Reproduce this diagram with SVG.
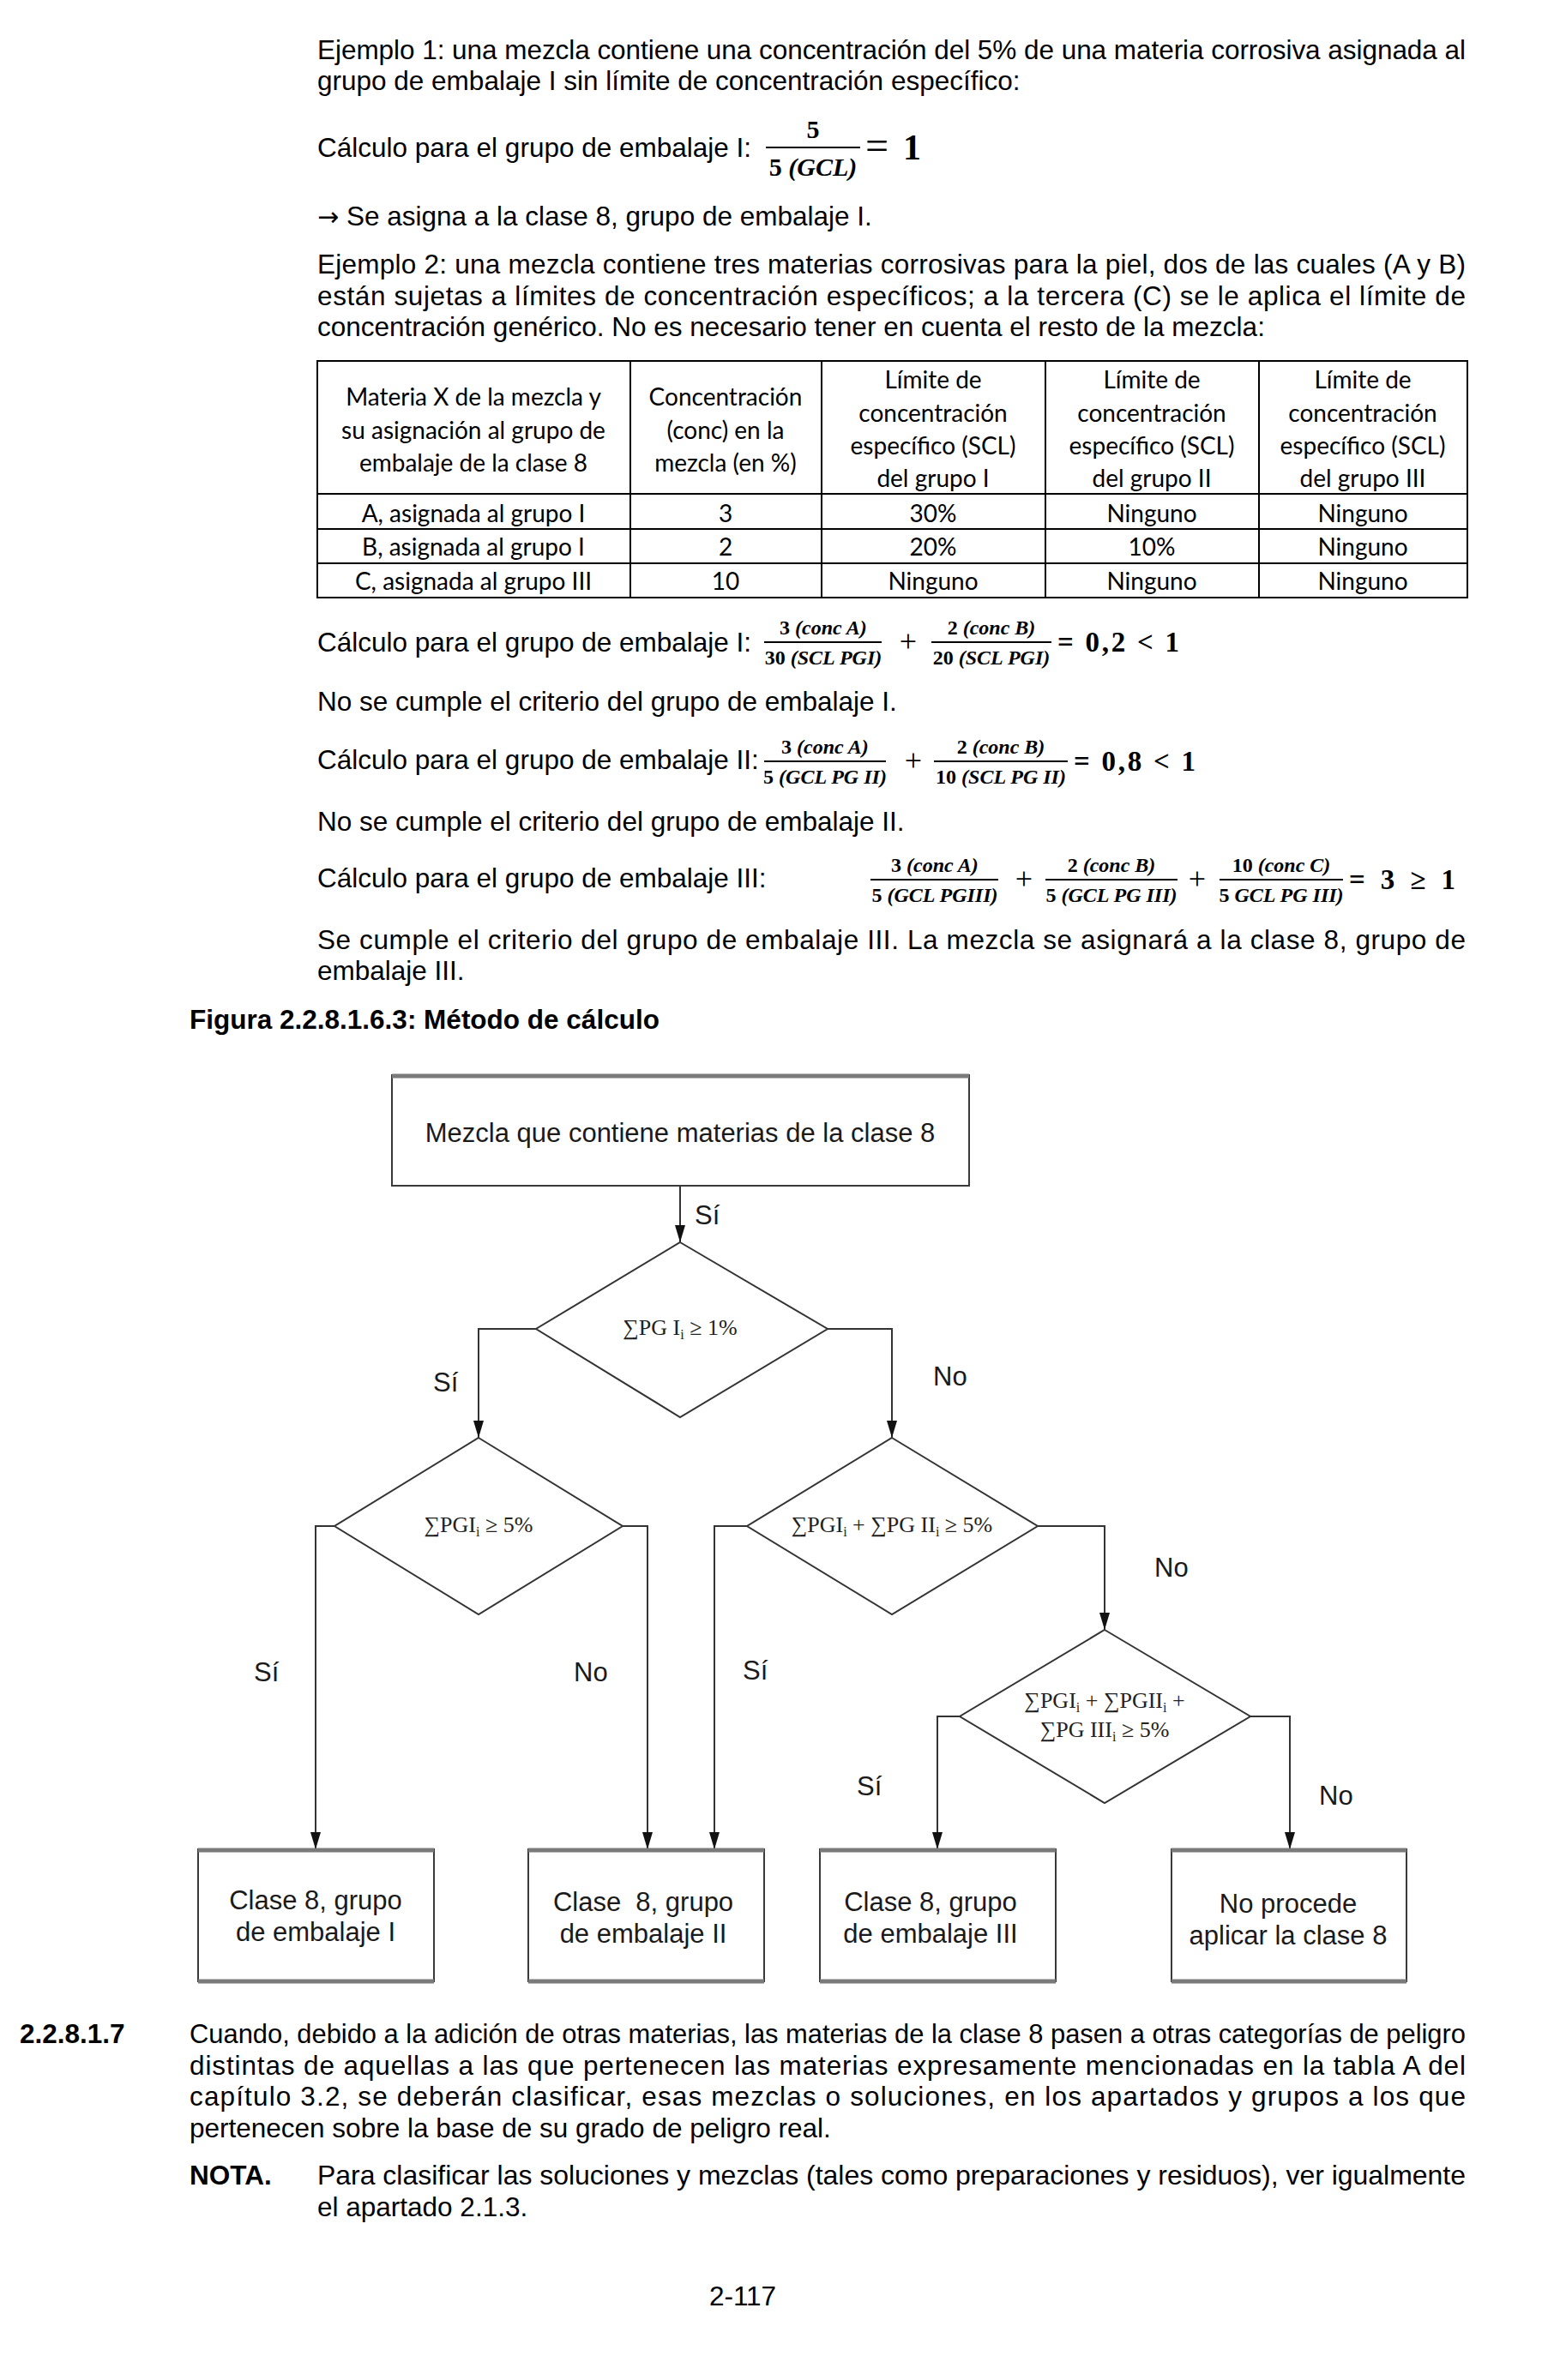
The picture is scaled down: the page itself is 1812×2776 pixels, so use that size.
<svg xmlns="http://www.w3.org/2000/svg" width="1812" height="2776" viewBox="0 0 1812 2776">
<style>
.b{font-family:"Liberation Sans",Arial,sans-serif;font-size:31.5px;fill:#000}
.bb{font-family:"Liberation Sans",Arial,sans-serif;font-size:31.5px;font-weight:bold;fill:#000}
.t{font-family:Lato,"Liberation Sans",sans-serif;font-size:28px;fill:#000;text-anchor:middle}
.m{font-family:"Liberation Serif","Times New Roman",serif;font-size:24px;font-weight:bold;font-style:italic;fill:#000;text-anchor:middle}
.mp{font-family:"Liberation Serif","Times New Roman",serif;font-size:36px;fill:#000;text-anchor:middle}
.mr{font-family:"Liberation Serif","Times New Roman",serif;font-size:33px;font-weight:bold;fill:#000}
.f{font-family:"Liberation Sans",Arial,sans-serif;font-size:31px;fill:#1a1a1a}
.fc{font-family:"Liberation Sans",Arial,sans-serif;font-size:31px;fill:#1a1a1a;text-anchor:middle}
.d{font-family:"Liberation Serif","Times New Roman",serif;font-size:26px;fill:#222;text-anchor:middle}
.tl{stroke:#000;stroke-width:2;fill:none}
.bar{stroke:#000;stroke-width:1.8}
.box{fill:#fff;stroke:#3a3a3a;stroke-width:2}
.dia{fill:#fff;stroke:#333;stroke-width:2}
.con{fill:none;stroke:#333;stroke-width:2}
.edge{stroke:#7a7a7a;stroke-width:5}
</style>
<defs>
<marker id="ah" viewBox="0 0 12 20" refX="6" refY="20" markerWidth="12" markerHeight="20" markerUnits="userSpaceOnUse" orient="0">
<path d="M0,0 L12,0 L6,20 z" fill="#111"/>
</marker>
</defs>
<rect width="1812" height="2776" fill="#fff"/>

<!-- Example 1 -->
<text class="b" x="370" y="69" textLength="1339" lengthAdjust="spacing">Ejemplo 1: una mezcla contiene una concentración del 5% de una materia corrosiva asignada al</text>
<text class="b" x="370" y="105">grupo de embalaje I sin límite de concentración específico:</text>
<text class="b" x="370" y="183">Cálculo para el grupo de embalaje I:</text>
<text x="948" y="161" font-family="Liberation Serif,serif" font-size="30" font-weight="bold" text-anchor="middle">5</text>
<line class="bar" x1="893" y1="172" x2="1003" y2="172"/>
<text x="948" y="205" font-family="Liberation Serif,serif" font-size="30" font-weight="bold" text-anchor="middle">5 <tspan font-style="italic">(GCL)</tspan></text>
<text x="1009" y="186" font-family="Liberation Serif,serif" font-size="48">=</text>
<text x="1053" y="186" font-family="Liberation Serif,serif" font-size="42" font-weight="bold">1</text>
<text class="b" x="370" y="263"><tspan font-family="DejaVu Sans,sans-serif" font-size="30">→</tspan> Se asigna a la clase 8, grupo de embalaje I.</text>

<!-- Example 2 -->
<text class="b" x="370" y="319" textLength="1339" lengthAdjust="spacing">Ejemplo 2: una mezcla contiene tres materias corrosivas para la piel, dos de las cuales (A y B)</text>
<text class="b" x="370" y="356" textLength="1339" lengthAdjust="spacing">están sujetas a límites de concentración específicos; a la tercera (C) se le aplica el límite de</text>
<text class="b" x="370" y="392">concentración genérico. No es necesario tener en cuenta el resto de la mezcla:</text>

<!-- Table -->
<g id="table">
<rect class="tl" x="370" y="421" width="1341" height="276"/>
<line class="tl" x1="370" y1="576" x2="1711" y2="576"/>
<line class="tl" x1="370" y1="617" x2="1711" y2="617"/>
<line class="tl" x1="370" y1="657" x2="1711" y2="657"/>
<line class="tl" x1="735" y1="421" x2="735" y2="697"/>
<line class="tl" x1="958" y1="421" x2="958" y2="697"/>
<line class="tl" x1="1219" y1="421" x2="1219" y2="697"/>
<line class="tl" x1="1468" y1="421" x2="1468" y2="697"/>
<text class="t" x="552" y="473">Materia X de la mezcla y</text>
<text class="t" x="552" y="512">su asignación al grupo de</text>
<text class="t" x="552" y="550">embalaje de la clase 8</text>
<text class="t" x="846" y="473">Concentración</text>
<text class="t" x="846" y="512">(conc) en la</text>
<text class="t" x="846" y="550">mezcla (en %)</text>
<text class="t" x="1088" y="453">Límite de</text>
<text class="t" x="1088" y="492">concentración</text>
<text class="t" x="1088" y="530">específico (SCL)</text>
<text class="t" x="1088" y="568">del grupo I</text>
<text class="t" x="1343" y="453">Límite de</text>
<text class="t" x="1343" y="492">concentración</text>
<text class="t" x="1343" y="530">específico (SCL)</text>
<text class="t" x="1343" y="568">del grupo II</text>
<text class="t" x="1589" y="453">Límite de</text>
<text class="t" x="1589" y="492">concentración</text>
<text class="t" x="1589" y="530">específico (SCL)</text>
<text class="t" x="1589" y="568">del grupo III</text>
<text class="t" x="552" y="609">A, asignada al grupo I</text>
<text class="t" x="846" y="609">3</text>
<text class="t" x="1088" y="609">30%</text>
<text class="t" x="1343" y="609">Ninguno</text>
<text class="t" x="1589" y="609">Ninguno</text>
<text class="t" x="552" y="648">B, asignada al grupo I</text>
<text class="t" x="846" y="648">2</text>
<text class="t" x="1088" y="648">20%</text>
<text class="t" x="1343" y="648">10%</text>
<text class="t" x="1589" y="648">Ninguno</text>
<text class="t" x="552" y="688">C, asignada al grupo III</text>
<text class="t" x="846" y="688">10</text>
<text class="t" x="1088" y="688">Ninguno</text>
<text class="t" x="1343" y="688">Ninguno</text>
<text class="t" x="1589" y="688">Ninguno</text>
</g>

<!-- Calc I -->
<text class="b" x="370" y="760">Cálculo para el grupo de embalaje I:</text>
<text class="m" x="960" y="740"><tspan font-style="normal">3 </tspan>(conc A)</text>
<line class="bar" x1="891" y1="749" x2="1028" y2="749"/>
<text class="m" x="960" y="775"><tspan font-style="normal">30 </tspan>(SCL PGI)</text>
<text class="mp" x="1059" y="760">+</text>
<text class="m" x="1156" y="740"><tspan font-style="normal">2 </tspan>(conc B)</text>
<line class="bar" x1="1086" y1="749" x2="1226" y2="749"/>
<text class="m" x="1156" y="775"><tspan font-style="normal">20 </tspan>(SCL PGI)</text>
<text class="mr" x="1233" y="760" textLength="142" lengthAdjust="spacing">= 0,2 &lt; 1</text>
<text class="b" x="370" y="829">No se cumple el criterio del grupo de embalaje I.</text>

<!-- Calc II -->
<text class="b" x="370" y="897">Cálculo para el grupo de embalaje II:</text>
<text class="m" x="962" y="879"><tspan font-style="normal">3 </tspan>(conc A)</text>
<line class="bar" x1="891" y1="888" x2="1033" y2="888"/>
<text class="m" x="962" y="914"><tspan font-style="normal">5 </tspan>(GCL PG II)</text>
<text class="mp" x="1065" y="899">+</text>
<text class="m" x="1167" y="879"><tspan font-style="normal">2 </tspan>(conc B)</text>
<line class="bar" x1="1089" y1="888" x2="1245" y2="888"/>
<text class="m" x="1167" y="914"><tspan font-style="normal">10 </tspan>(SCL PG II)</text>
<text class="mr" x="1252" y="899" textLength="142" lengthAdjust="spacing">= 0,8 &lt; 1</text>
<text class="b" x="370" y="969">No se cumple el criterio del grupo de embalaje II.</text>

<!-- Calc III -->
<text class="b" x="370" y="1035">Cálculo para el grupo de embalaje III:</text>
<text class="m" x="1090" y="1017"><tspan font-style="normal">3 </tspan>(conc A)</text>
<line class="bar" x1="1015" y1="1026" x2="1164" y2="1026"/>
<text class="m" x="1090" y="1052"><tspan font-style="normal">5 </tspan>(GCL PGIII)</text>
<text class="mp" x="1194" y="1037">+</text>
<text class="m" x="1296" y="1017"><tspan font-style="normal">2 </tspan>(conc B)</text>
<line class="bar" x1="1219" y1="1026" x2="1373" y2="1026"/>
<text class="m" x="1296" y="1052"><tspan font-style="normal">5 </tspan>(GCL PG III)</text>
<text class="mp" x="1396" y="1037">+</text>
<text class="m" x="1494" y="1017"><tspan font-style="normal">10 </tspan>(conc C)</text>
<line class="bar" x1="1422" y1="1026" x2="1566" y2="1026"/>
<text class="m" x="1494" y="1052"><tspan font-style="normal">5 </tspan>GCL PG III)</text>
<text class="mr" x="1573" y="1037" textLength="124" lengthAdjust="spacing">= 3  ≥  1</text>
<text class="b" x="370" y="1107" textLength="1339" lengthAdjust="spacing">Se cumple el criterio del grupo de embalaje III. La mezcla se asignará a la clase 8, grupo de</text>
<text class="b" x="370" y="1143">embalaje III.</text>
<text class="bb" x="221" y="1200">Figura 2.2.8.1.6.3: Método de cálculo</text>

<!-- Flowchart connectors -->
<g id="connectors">
<path class="con" d="M793,1383 V1449" marker-end="url(#ah)"/>
<path class="con" d="M625,1550 H558 V1677" marker-end="url(#ah)"/>
<path class="con" d="M965,1550 H1040 V1677" marker-end="url(#ah)"/>
<path class="con" d="M390,1780 H368 V2157" marker-end="url(#ah)"/>
<path class="con" d="M726,1780 H755 V2157" marker-end="url(#ah)"/>
<path class="con" d="M871,1780 H833 V2157" marker-end="url(#ah)"/>
<path class="con" d="M1210,1780 H1288 V1901" marker-end="url(#ah)"/>
<path class="con" d="M1119,2002 H1093 V2157" marker-end="url(#ah)"/>
<path class="con" d="M1458,2002 H1504 V2157" marker-end="url(#ah)"/>
<text class="f" x="810" y="1428">Sí</text>
<text class="f" x="505" y="1623">Sí</text>
<text class="f" x="1088" y="1616">No</text>
<text class="f" x="296" y="1961">Sí</text>
<text class="f" x="669" y="1961">No</text>
<text class="f" x="866" y="1959">Sí</text>
<text class="f" x="1346" y="1839">No</text>
<text class="f" x="999" y="2094">Sí</text>
<text class="f" x="1538" y="2105">No</text>
</g>

<!-- Nodes -->
<g id="start">
<rect class="box" x="457" y="1254" width="673" height="129"/>
<line class="edge" x1="457" y1="1255" x2="1130" y2="1255" stroke-width="3"/>
<text class="fc" x="793" y="1332">Mezcla que contiene materias de la clase 8</text>
</g>
<g id="dec1">
<polygon class="dia" points="793,1449 965,1550 793,1653 625,1550"/>
<text class="d" x="793" y="1557">∑PG I<tspan font-size="16" dy="5">i</tspan><tspan dy="-5"> ≥ 1%</tspan></text>
</g>
<g id="dec2">
<polygon class="dia" points="558,1677 726,1780 558,1883 390,1780"/>
<text class="d" x="558" y="1787">∑PGI<tspan font-size="16" dy="5">i</tspan><tspan dy="-5"> ≥ 5%</tspan></text>
</g>
<g id="dec3">
<polygon class="dia" points="1040,1677 1210,1780 1040,1883 871,1780"/>
<text class="d" x="1040" y="1787">∑PGI<tspan font-size="16" dy="5">i</tspan><tspan dy="-5"> + ∑PG II</tspan><tspan font-size="16" dy="5">i</tspan><tspan dy="-5"> ≥ 5%</tspan></text>
</g>
<g id="dec4">
<polygon class="dia" points="1288,1901 1458,2002 1288,2103 1119,2002"/>
<text class="d" x="1288" y="1992">∑PGI<tspan font-size="16" dy="5">i</tspan><tspan dy="-5"> + ∑PGII</tspan><tspan font-size="16" dy="5">i</tspan><tspan dy="-5"> +</tspan></text>
<text class="d" x="1288" y="2026">∑PG III<tspan font-size="16" dy="5">i</tspan><tspan dy="-5"> ≥ 5%</tspan></text>
</g>
<g id="pg1">
<rect class="box" x="231" y="2157" width="275" height="154"/>
<line class="edge" x1="231" y1="2158" x2="506" y2="2158"/>
<line class="edge" x1="231" y1="2311" x2="506" y2="2311" stroke-width="3"/>
<text class="fc" x="368" y="2227">Clase 8, grupo</text>
<text class="fc" x="368" y="2264">de embalaje I</text>
</g>
<g id="pg2">
<rect class="box" x="616" y="2157" width="275" height="154"/>
<line class="edge" x1="616" y1="2158" x2="891" y2="2158"/>
<line class="edge" x1="616" y1="2311" x2="891" y2="2311" stroke-width="3"/>
<text class="fc" x="750" y="2229" xml:space="preserve">Clase  8, grupo</text>
<text class="fc" x="750" y="2266">de embalaje II</text>
</g>
<g id="pg3">
<rect class="box" x="956" y="2157" width="275" height="154"/>
<line class="edge" x1="956" y1="2158" x2="1231" y2="2158"/>
<line class="edge" x1="956" y1="2311" x2="1231" y2="2311" stroke-width="3"/>
<text class="fc" x="1085" y="2229">Clase 8, grupo</text>
<text class="fc" x="1085" y="2266">de embalaje III</text>
</g>
<g id="noclass">
<rect class="box" x="1366" y="2157" width="274" height="154"/>
<line class="edge" x1="1366" y1="2158" x2="1640" y2="2158"/>
<line class="edge" x1="1366" y1="2311" x2="1640" y2="2311" stroke-width="3"/>
<text class="fc" x="1502" y="2231">No procede</text>
<text class="fc" x="1502" y="2268">aplicar la clase 8</text>
</g>

<!-- Bottom text -->
<text class="bb" x="23" y="2383">2.2.8.1.7</text>
<text class="b" x="221" y="2383" textLength="1488" lengthAdjust="spacingAndGlyphs">Cuando, debido a la adición de otras materias, las materias de la clase 8 pasen a otras categorías de peligro</text>
<text class="b" x="221" y="2420" textLength="1488" lengthAdjust="spacing">distintas de aquellas a las que pertenecen las materias expresamente mencionadas en la tabla A del</text>
<text class="b" x="221" y="2456" textLength="1488" lengthAdjust="spacing">capítulo 3.2, se deberán clasificar, esas mezclas o soluciones, en los apartados y grupos a los que</text>
<text class="b" x="221" y="2493">pertenecen sobre la base de su grado de peligro real.</text>
<text class="bb" x="221" y="2548">NOTA.</text>
<text class="b" x="370" y="2548" textLength="1339" lengthAdjust="spacingAndGlyphs">Para clasificar las soluciones y mezclas (tales como preparaciones y residuos), ver igualmente</text>
<text class="b" x="370" y="2585">el apartado 2.1.3.</text>
<text class="b" x="866" y="2689" text-anchor="middle">2-117</text>
</svg>
